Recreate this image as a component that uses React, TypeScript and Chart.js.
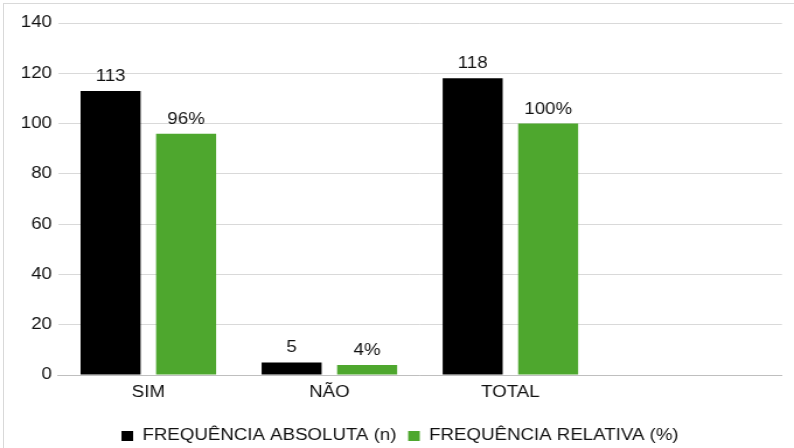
import React, { useEffect, useRef } from "react";
import { Chart, registerables } from "chart.js";

Chart.register(...registerables);

const categories = ["SIM", "NÃO", "TOTAL", ""];
const absoluteCounts = [113, 5, 118, null];
const relativePercents = [96, 4, 100, null];
const seriesNames = ["FREQUÊNCIA ABSOLUTA (n)", "FREQUÊNCIA RELATIVA (%)"];
const yTicks = { min: 0, max: 140, step: 20 };

const FONT = "'Liberation Sans', Arial, sans-serif";
const TEXT = "#111111";

// The chart is laid out on a narrower canvas and widened horizontally,
// which gives the broad lettering of the original figure.
const VIEW_W = 794;
const VIEW_H = 448;
const CANVAS_W = 680;
const STRETCH = VIEW_W / CANVAS_W;

// Writes each bar's value just above it (percent sign on the relative series).
const valueLabels = {
  id: "valueLabels",
  afterDatasetsDraw(chart: any) {
    const ctx = chart.ctx;
    ctx.save();
    ctx.font = `16px ${FONT}`;
    ctx.fillStyle = TEXT;
    ctx.textAlign = "center";
    ctx.textBaseline = "alphabetic";
    chart.data.datasets.forEach((ds: any, di: number) => {
      const meta = chart.getDatasetMeta(di);
      meta.data.forEach((bar: any, i: number) => {
        const v = ds.data[i];
        if (v == null) return;
        const text = di === 1 ? `${v}%` : `${v}`;
        ctx.fillText(text, bar.x, bar.y - 10);
      });
    });
    ctx.restore();
  },
};

export default function App() {
  const canvasRef = useRef<HTMLCanvasElement>(null);

  useEffect(() => {
    const canvas = canvasRef.current;
    if (!canvas) return;
    const chart = new Chart(canvas, {
      type: "bar",
      data: {
        labels: categories,
        datasets: [
          {
            label: seriesNames[0],
            data: absoluteCounts,
            backgroundColor: "#000000",
            categoryPercentage: 0.834,
            barPercentage: 0.795,
          },
          {
            label: seriesNames[1],
            data: relativePercents,
            backgroundColor: "#4ea72e",
            categoryPercentage: 0.834,
            barPercentage: 0.795,
          },
        ],
      },
      options: {
        animation: false,
        responsive: false,
        maintainAspectRatio: false,
        layout: { padding: { left: 15.5, right: 10.3, top: 23, bottom: -6 } },
        scales: {
          x: {
            grid: { display: false, drawTicks: false },
            border: { display: true, color: "#bfbfbf", width: 1 },
            ticks: { color: TEXT, font: { family: FONT, size: 16 }, padding: 8 },
            afterFit(scale: any) {
              scale.height = 43;
            },
          },
          y: {
            min: yTicks.min,
            max: yTicks.max,
            grid: { color: "#d9d9d9", drawTicks: false },
            border: { display: false },
            ticks: {
              stepSize: yTicks.step,
              color: TEXT,
              font: { family: FONT, size: 16 },
              padding: 5,
            },
            afterFit(scale: any) {
              scale.width = 34;
            },
          },
        },
        plugins: {
          tooltip: { enabled: false },
          legend: {
            position: "bottom",
            labels: {
              color: TEXT,
              font: { family: FONT, size: 16 },
              boxWidth: 10,
              boxHeight: 10,
              padding: 10,
            },
          },
        },
      },
      plugins: [valueLabels],
    });
    return () => chart.destroy();
  }, []);

  return (
    <div
      style={{
        position: "fixed",
        left: 0,
        top: 0,
        width: VIEW_W,
        height: VIEW_H,
        overflow: "hidden",
        background: "#ffffff",
      }}
    >
      <div
        style={{
          position: "absolute",
          left: 3,
          top: 3,
          width: 820,
          height: 480,
          border: "1px solid #d9d9d9",
        }}
      />
      <canvas
        ref={canvasRef}
        width={CANVAS_W}
        height={VIEW_H}
        style={{
          position: "absolute",
          left: 0,
          top: 0,
          width: CANVAS_W,
          height: VIEW_H,
          transform: `scaleX(${STRETCH})`,
          transformOrigin: "0 0",
        }}
      />
    </div>
  );
}
